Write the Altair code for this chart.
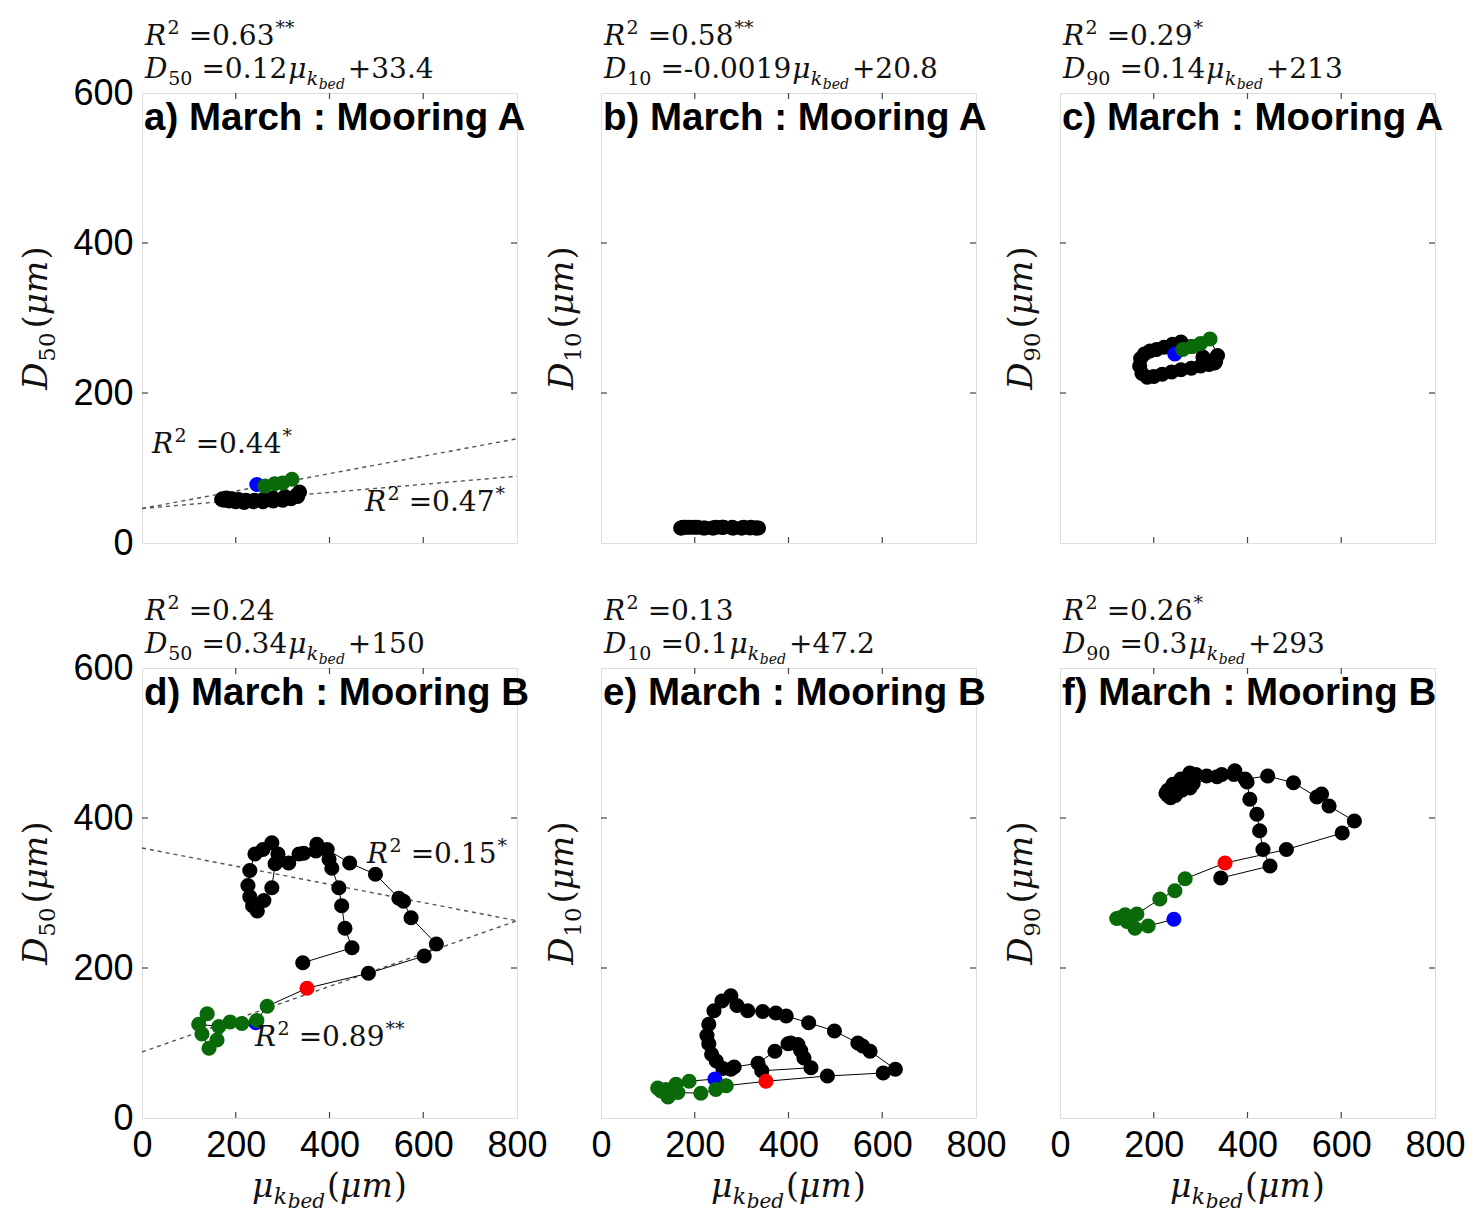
import altair as alt
import pandas as pd

W, H = 375, 450
XD, YD = 800, 600

# ---------------- data ----------------
# Mooring A (panels a-c)
a_mu  = [245, 262, 283, 300, 320, 336, 332, 318, 300, 280, 258, 238, 218, 200, 186,
         175, 170, 172, 180, 192, 206, 222, 240, 258, 280, 305, 330]
a_d50 = [78, 76, 79, 80, 85, 68, 62, 59, 57, 56, 55, 55, 54, 55, 56,
         57, 58, 59, 60, 59, 58, 57, 57, 58, 60, 62, 64]
a_d10 = [21, 21, 20, 20, 21, 20, 20, 20, 20, 21, 21, 20, 20, 21, 21,
         21, 20, 20, 21, 21, 21, 20, 20, 21, 20, 21, 20]
a_d90 = [252, 258, 262, 266, 272, 250, 242, 238, 236, 233, 231, 228, 225, 222, 221,
         226, 236, 246, 252, 256, 258, 261, 265, 268, 262, 248, 240]
a_cls = ["b", "g", "g", "g", "g"] + ["k"] * 22
a_cls_d10 = ["k"] * 27   # in panel b every marker shows black

# Mooring B (panels d-f)
b_mu  = [243, 188, 160, 143, 128, 139, 121, 164, 213, 245, 267, 352,
         483, 602, 628, 574, 558, 548, 498, 443, 395, 373, 345, 313, 290, 277, 258,
         241, 230, 226, 230, 236, 246, 260, 277, 284, 335, 371, 399, 405, 420, 426,
         433, 448, 343]
b_d50 = [127, 128, 104, 93, 112, 139, 125, 122, 126, 130, 149, 173,
         193, 216, 232, 267, 289, 293, 325, 340, 358, 365, 353, 340, 352, 367, 358,
         352, 330, 310, 295, 283, 276, 290, 307, 339, 352, 356, 345, 333, 307, 283,
         253, 227, 207]
b_d10 = [52, 49, 45, 28, 36, 38, 40, 34, 33, 38, 43, 49,
         56, 60, 65, 89, 96, 100, 116, 127, 136, 140, 142, 143, 150, 163, 156,
         143, 125, 110, 99, 85, 76, 66, 65, 68, 73, 89, 99, 100, 98, 90,
         80, 67, 63]
b_d90 = [265, 256, 253, 262, 267, 271, 266, 272, 292, 303, 319, 340,
         358, 380, 396, 416, 432, 428, 447, 456, 452, 463, 458, 456, 458, 460, 452,
         445, 437, 433, 430, 427, 430, 437, 440, 446, 455, 458, 448, 425, 405, 383,
         358, 336, 320]
b_cls = ["b"] + ["g"] * 10 + ["r"] + ["k"] * 33

titles = ["a) March : Mooring A", "b) March : Mooring A", "c) March : Mooring A",
          "d) March : Mooring B", "e) March : Mooring B", "f) March : Mooring B"]
r2_val   = ["0.63", "0.58", "0.29", "0.24", "0.13", "0.26"]
r2_star  = ["**", "**", "*", "", "", "*"]
d_var    = ["50", "10", "90", "50", "10", "90"]
eq_slope = ["0.12", "-0.0019", "0.14", "0.34", "0.1", "0.3"]
eq_icpt  = ["+33.4", "+20.8", "+213", "+150", "+47.2", "+293"]

# dotted fit lines (value at mu=0 and mu=800)
fit_a_y0 = [46, 46]
fit_a_y1 = [139, 89]
fit_d_y0 = [360, 88]
fit_d_y1 = [263, 263]
# in-panel R^2 labels
in_a = [("0.44", "*"), ("0.47", "*")]
in_d = [("0.15", "*"), ("0.89", "**")]

x_ticks = [0, 200, 400, 600, 800]
y_ticks = [0, 200, 400, 600]

COLORS = {"k": "#000000", "b": "#0000ff", "g": "#0a6a0a", "r": "#ff0000"}
ZORD = {"k": 0, "b": 1, "g": 2, "r": 3}

SERIF = "DejaVu Serif"
SANS = "Liberation Sans"

SW = {'.': .318, ' ': .318, '=': .838, '+': .838, '-': .338, '*': .5, '(': .39, ')': .39,
      'D': .83, 'R': .77, 'μ': .66, 'k': .63, 'b': .64, 'e': .59, 'd': .64, 'm': .95}
for c in "0123456789":
    SW[c] = .636


def tw(s, fs):
    return sum(SW.get(ch, .6) for ch in s) * fs


def rich(segs, x0, y0, angle=0):
    rows = []
    adv = 0.0
    for seg in segs:
        text, fs, shift, style = seg[:4]
        gap = seg[4] if len(seg) > 4 else 0
        adv += gap
        if angle == 0:
            px, py = x0 + adv, y0 + shift
        else:
            px, py = x0 + shift, y0 - adv
        rows.append(dict(text=text, fs=fs, style=style, ang=angle,
                         tx=px * XD / W, ty=YD - py * YD / H))
        adv += tw(text, fs)
    return rows


def seg_len(segs):
    return sum(tw(s[0], s[1]) + (s[4] if len(s) > 4 else 0) for s in segs)


def r2_segs(val, star):
    s = [("R", 28, 0, "it"), ("2", 19, -11, "rm", 1), ("=" + val, 28, 0, "rm", 9)]
    if star:
        s.append((star, 19, -11, "rm", 1))
    return s


def panel(k, mu, yv, cls):
    row, col = divmod(k, 3)
    xs = alt.Scale(domain=[0, XD], nice=False, zero=False)
    ys = alt.Scale(domain=[0, YD], nice=False, zero=False)
    if row == 1:
        xaxis = alt.Axis(values=x_ticks, title=None, ticks=False, domain=False, grid=False,
                         labelFont=SANS, labelFontSize=36, labelColor="#000",
                         labelPadding=10, labelFlush=False, labelOverlap=False, format="d")
    else:
        xaxis = None
    if col == 0:
        yaxis = alt.Axis(values=y_ticks, title=None, ticks=False, domain=False, grid=False,
                         labelFont=SANS, labelFontSize=36, labelColor="#000",
                         labelPadding=9, labelFlush=False, labelOverlap=False, format="d")
    else:
        yaxis = None

    def ex(f):
        return alt.X(f, type="quantitative", scale=xs, axis=xaxis)

    def ey(f):
        return alt.Y(f, type="quantitative", scale=ys, axis=yaxis)

    df = pd.DataFrame({"mu": mu, "v": yv, "c": cls, "i": list(range(len(mu)))})
    df["z"] = df["c"].map(ZORD)

    layers = []
    # fit lines
    if k in (0, 3):
        y0s, y1s = (fit_a_y0, fit_a_y1) if k == 0 else (fit_d_y0, fit_d_y1)
        fd = pd.DataFrame({"fx": [0, XD] * 2,
                           "fy": [y0s[0], y1s[0], y0s[1], y1s[1]],
                           "id": [0, 0, 1, 1]})
        layers.append(alt.Chart(fd).mark_line(color="#555", strokeWidth=1.4,
                                              strokeDash=[4, 4]).encode(
            x=ex("fx"), y=ey("fy"), detail="id:N"))
    # path line
    layers.append(alt.Chart(df).mark_line(color="#000", strokeWidth=1).encode(
        x=ex("mu"), y=ey("v"), order="i:Q"))
    # points
    layers.append(alt.Chart(df).mark_circle(size=230, opacity=1).encode(
        x=ex("mu"), y=ey("v"),
        color=alt.Color("c:N", scale=alt.Scale(domain=list(COLORS.keys()),
                                               range=list(COLORS.values())), legend=None),
        order="z:Q"))
    # inward ticks
    tx = pd.DataFrame({"t": x_ticks[1:-1]})
    ty = pd.DataFrame({"t": y_ticks[1:-1]})
    tk = dict(color="#444", strokeWidth=1.2)
    layers.append(alt.Chart(tx).mark_rule(**tk).encode(x=ex("t"), y=alt.value(H), y2=alt.value(H - 6)))
    layers.append(alt.Chart(tx).mark_rule(**tk).encode(x=ex("t"), y=alt.value(0), y2=alt.value(6)))
    layers.append(alt.Chart(ty).mark_rule(**tk).encode(y=ey("t"), x=alt.value(0), x2=alt.value(6)))
    layers.append(alt.Chart(ty).mark_rule(**tk).encode(y=ey("t"), x=alt.value(W), x2=alt.value(W - 6)))

    # rich text
    rows = []
    rows += rich(r2_segs(r2_val[k], r2_star[k]), 3, -48)
    rows += rich([("D", 28, 0, "it"), (d_var[k], 19, 7, "rm"), ("=" + eq_slope[k], 28, 0, "rm", 9),
                  ("μ", 28, 0, "it", 1), ("k", 19, 7, "it"), ("bed", 14, 11, "it"),
                  (eq_icpt[k], 28, 0, "rm", 3)], 3, -15)
    # y title
    yseg = [("D", 34, 0, "it"), (d_var[k], 23, 8, "rm"), ("(", 34, 0, "rm", 4),
            ("μm", 34, 0, "it"), (")", 34, 0, "rm", 1)]
    ybase = -95 if col == 0 else -28
    rows += rich(yseg, ybase, H / 2 + seg_len(yseg) / 2, angle=270)
    # x title
    if row == 1:
        xseg = [("μ", 33, 0, "it"), ("k", 22, 7, "it"), ("bed", 20, 11, "it"),
                ("(", 33, 0, "rm", 2), ("μm", 33, 0, "it"), (")", 33, 0, "rm", 1)]
        rows += rich(xseg, W / 2 - seg_len(xseg) / 2, H + 79)
    if k == 0:
        rows += rich(r2_segs(*in_a[0]), 10, 360)
        rows += rich(r2_segs(*in_a[1]), 223, 418)
    if k == 3:
        rows += rich(r2_segs(*in_d[0]), 225, 195)
        rows += rich(r2_segs(*in_d[1]), 113, 378)
    tdf = pd.DataFrame(rows)
    for style, fst in (("it", "italic"), ("rm", "normal")):
        sub = tdf[tdf["style"] == style]
        if len(sub) == 0:
            continue
        layers.append(alt.Chart(sub).mark_text(font=SERIF, fontStyle=fst, align="left",
                                               baseline="alphabetic", color="#111").encode(
            x=ex("tx"), y=ey("ty"), text="text:N",
            size=alt.Size("fs:Q", scale=None, legend=None),
            angle=alt.Angle("ang:Q", scale=None)))
    # panel title
    ttl = pd.DataFrame({"t": [titles[k]], "tx": [2 * XD / W], "ty": [YD - 37 * YD / H]})
    layers.append(alt.Chart(ttl).mark_text(font=SANS, fontWeight="bold", fontSize=38.5,
                                           align="left", baseline="alphabetic",
                                           color="#000").encode(
        x=ex("tx"), y=ey("ty"), text="t:N"))

    return alt.layer(*layers).properties(width=W, height=H)


panels = []
for k in range(6):
    if k < 3:
        yv = [a_d50, a_d10, a_d90][k]
        cls = a_cls_d10 if k == 1 else a_cls
        panels.append(panel(k, a_mu, yv, cls))
    else:
        yv = [b_d50, b_d10, b_d90][k - 3]
        panels.append(panel(k, b_mu, yv, b_cls))

chart = alt.concat(*panels, columns=3, spacing={"row": 125, "column": 84},
                   bounds="flush").properties(
    padding={"left": 11, "top": 10, "right": 5, "bottom": 3}
).configure_view(stroke="#444", strokeWidth=1.6).configure(background="#ffffff")

chart.save("out.html", embed_options={"renderer": "svg", "actions": False})
